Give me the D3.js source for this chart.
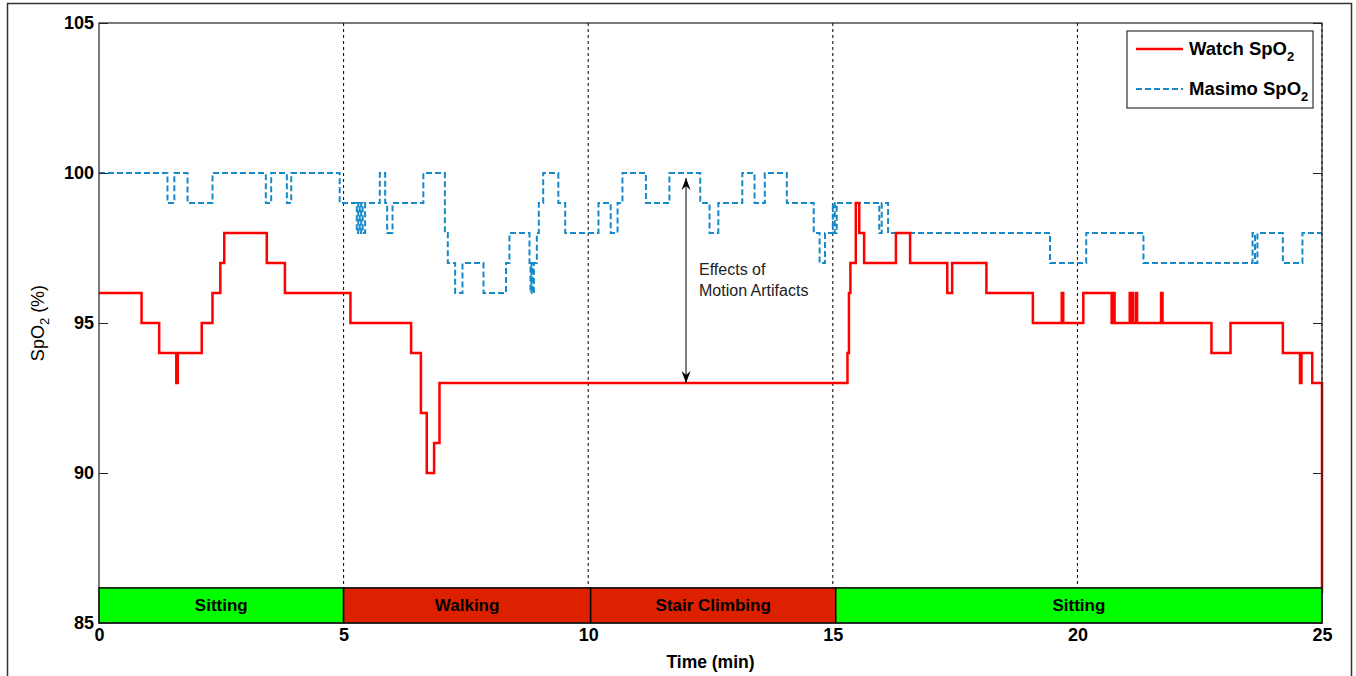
<!DOCTYPE html>
<html>
<head>
<meta charset="utf-8">
<script src="https://cdn.jsdelivr.net/npm/d3@7/dist/d3.min.js"></script>
<style>
  body { margin: 0; background: #fff; }
  svg { display: block; font-family: "Liberation Sans", Arial, sans-serif; }
</style>
</head>
<body>
<div id="chart"></div>
<script>
// step series: each value holds from its time until the next time
var watchTimes = [0, 0.87, 1.23, 1.58, 1.61, 2.10, 2.32, 2.48, 2.56, 3.43, 3.80, 5.14, 6.38, 6.58, 6.70, 6.85, 6.96,
    15.30, 15.33, 15.36, 15.47, 15.54, 15.64, 16.29, 16.58, 17.34, 17.44, 18.14, 19.09, 19.68, 19.71,
    20.12, 20.70, 20.73, 20.76, 21.07, 21.09, 21.12, 21.14, 21.20, 21.22, 21.71, 21.74, 22.74, 23.13,
    24.20, 24.55, 24.58, 24.80, 25.0];
var watchValues = [96, 95, 94, 93, 94, 95, 96, 97, 98, 97, 96, 95, 94, 92, 90, 91, 93,
    94, 96, 97, 99, 98, 97, 98, 97, 96, 97, 96, 95, 96, 95,
    96, 95, 96, 95, 96, 95, 96, 95, 96, 95, 96, 95, 94, 95,
    94, 93, 94, 93, 86];

var masimoTimes = [0, 1.40, 1.54, 1.81, 2.32, 3.41, 3.52, 3.84, 3.93, 4.92, 5.27, 5.30, 5.33, 5.36, 5.39, 5.44,
    5.74, 5.85, 5.89, 6.00, 6.63, 7.07, 7.13, 7.28, 7.43, 7.86, 8.32, 8.39, 8.80, 8.82, 8.84, 8.86, 8.89,
    8.95, 8.99, 9.08, 9.39, 9.53, 10.21, 10.46, 10.60, 10.70, 11.18, 11.66, 12.29, 12.48, 12.66, 13.15,
    13.40, 13.61, 14.06, 14.61, 14.73, 14.84, 15.00, 15.04, 15.08, 15.95, 16.00, 16.13, 19.44, 20.18,
    21.35, 23.58, 23.63, 23.68, 24.20, 24.60, 25.0];
var masimoValues = [100, 99, 100, 99, 100, 99, 100, 99, 100, 99, 98, 99, 98, 99, 98, 99,
    100, 99, 98, 99, 100, 98, 97, 96, 97, 96, 97, 98, 97, 96, 97, 96, 97,
    98, 99, 100, 99, 98, 99, 98, 99, 100, 99, 100, 99, 98, 99, 100,
    99, 100, 99, 98, 97, 98, 99, 98, 99, 98, 99, 98, 97, 98,
    97, 98, 97, 98, 97, 98, 98];

var activityNames = ["Sitting", "Walking", "Stair Climbing", "Sitting"];
var activityStarts = [0, 5, 10.05, 15.06];
var activityEnds = [5, 10.05, 15.06, 25];
var activityColors = ["#00ff00", "#dd2000", "#dd2000", "#00ff00"];

var xTicks = [0, 5, 10, 15, 20, 25];
var yTicks = [85, 90, 95, 100, 105];
var gridTimes = [5, 10, 15, 20, 25];

var barTop = 86.17;
var arrowTime = 12, arrowFrom = 99.83, arrowTo = 93.0;

var width = 1356, height = 676;
var margin = { top: 23, right: 34, bottom: 53, left: 99 };
var w = width - margin.left - margin.right,
    h = height - margin.top - margin.bottom;

var svg = d3.select("#chart").append("svg")
    .attr("width", width)
    .attr("height", height);

// figure frame
svg.append("rect")
    .attr("x", 7.5).attr("y", 3.5)
    .attr("width", 1344).attr("height", 690)
    .attr("fill", "none").attr("stroke", "#333").attr("stroke-width", 1.5);

var defs = svg.append("defs");
defs.append("marker")
    .attr("id", "head")
    .attr("viewBox", "-12 -6 14 12")
    .attr("markerWidth", 14).attr("markerHeight", 12)
    .attr("markerUnits", "userSpaceOnUse")
    .attr("refX", 0).attr("refY", 0)
    .attr("orient", "auto-start-reverse")
    .append("path")
    .attr("d", "M0,0 L-12,-4.5 L-8,0 L-12,4.5 Z")
    .attr("fill", "#000");

var g = svg.append("g")
    .attr("transform", "translate(" + margin.left + "," + margin.top + ")");

var x = d3.scaleLinear().domain([0, 25]).range([0, w]);
var y = d3.scaleLinear().domain([85, 105]).range([h, 0]);

// dotted activity boundaries
g.selectAll(".grid")
    .data(gridTimes)
    .enter().append("line")
    .attr("x1", function(d) { return x(d); })
    .attr("x2", function(d) { return x(d); })
    .attr("y1", y(105))
    .attr("y2", y(barTop))
    .attr("stroke", "#000")
    .attr("stroke-width", 1)
    .attr("stroke-dasharray", "3,3");

var line = d3.line()
    .x(function(d) { return x(d[0]); })
    .y(function(d) { return y(d[1]); })
    .curve(d3.curveStepAfter);

var masimo = d3.zip(masimoTimes, masimoValues);
var watch = d3.zip(watchTimes, watchValues);

g.append("path")
    .datum(masimo)
    .attr("d", line)
    .attr("fill", "none")
    .attr("stroke", "#1689ca")
    .attr("stroke-width", 2)
    .attr("stroke-dasharray", "6,3");

g.append("path")
    .datum(watch)
    .attr("d", line)
    .attr("fill", "none")
    .attr("stroke", "#ff0000")
    .attr("stroke-width", 2.5);

// activity bar
var bars = g.selectAll(".act")
    .data(activityNames)
    .enter().append("g");

bars.append("rect")
    .attr("x", function(d, i) { return x(activityStarts[i]); })
    .attr("y", y(barTop))
    .attr("width", function(d, i) { return x(activityEnds[i]) - x(activityStarts[i]); })
    .attr("height", y(85) - y(barTop))
    .attr("fill", function(d, i) { return activityColors[i]; })
    .attr("stroke", "#000")
    .attr("stroke-width", 1.5);

bars.append("text")
    .attr("x", function(d, i) { return x((activityStarts[i] + activityEnds[i]) / 2); })
    .attr("y", (y(barTop) + y(85)) / 2 + 6)
    .attr("text-anchor", "middle")
    .attr("font-size", 17)
    .attr("font-weight", "bold")
    .attr("fill", "#000")
    .text(function(d) { return d; });

// axes box
g.append("rect")
    .attr("x", 0).attr("y", 0)
    .attr("width", w).attr("height", h)
    .attr("fill", "none")
    .attr("stroke", "#222")
    .attr("stroke-width", 1.2);

var yAxisL = d3.axisLeft(y).tickValues(yTicks).tickSizeInner(-9).tickSizeOuter(0).tickPadding(5);
var yAxisR = d3.axisRight(y).tickValues(yTicks).tickSizeInner(-9).tickSizeOuter(0).tickFormat("");
var xAxis = d3.axisBottom(x).tickValues(xTicks).tickSizeInner(0).tickSizeOuter(0).tickPadding(5);

var gy = g.append("g").call(yAxisL);
g.append("g").attr("transform", "translate(" + w + ",0)").call(yAxisR);
var gx = g.append("g").attr("transform", "translate(0," + h + ")").call(xAxis);

g.selectAll(".domain").remove();
g.selectAll(".tick line").attr("stroke", "#222");
gy.selectAll("text").attr("font-size", 18).attr("font-weight", "bold").attr("fill", "#000")
    .attr("font-family", "Liberation Sans, Arial, sans-serif");
gx.selectAll("text").attr("font-size", 18).attr("font-weight", "bold").attr("fill", "#000")
    .attr("font-family", "Liberation Sans, Arial, sans-serif");

// axis labels
g.append("text")
    .attr("x", w / 2)
    .attr("y", h + 45)
    .attr("text-anchor", "middle")
    .attr("font-size", 17.5)
    .attr("font-weight", "bold")
    .text("Time (min)");

var yl = g.append("text")
    .attr("transform", "translate(-55," + y(95) + ") rotate(-90)")
    .attr("text-anchor", "middle")
    .attr("font-size", 18);
yl.append("tspan").text("SpO");
yl.append("tspan").attr("font-size", 13).attr("dy", 5).text("2");
yl.append("tspan").attr("dy", -5).text(" (%)");

// motion artifact annotation
g.append("line")
    .attr("x1", x(arrowTime)).attr("x2", x(arrowTime))
    .attr("y1", y(arrowFrom)).attr("y2", y(arrowTo))
    .attr("stroke", "#000")
    .attr("stroke-width", 1)
    .attr("marker-start", "url(#head)")
    .attr("marker-end", "url(#head)");

var note = g.append("text")
    .attr("x", x(arrowTime) + 13)
    .attr("y", y(96.6))
    .attr("font-size", 16)
    .attr("fill", "#222");
note.append("tspan").attr("x", x(arrowTime) + 13).text("Effects of");
note.append("tspan").attr("x", x(arrowTime) + 13).attr("dy", 21).text("Motion Artifacts");

// legend
var legend = svg.append("g").attr("transform", "translate(1127,31)");
legend.append("rect")
    .attr("width", 186).attr("height", 77)
    .attr("fill", "#fff").attr("stroke", "#333").attr("stroke-width", 1.2);

var legendItems = [
    { name: "Watch SpO", color: "#ff0000", dash: null, sw: 2.5 },
    { name: "Masimo SpO", color: "#1689ca", dash: "6,3", sw: 2 }
];
legendItems.forEach(function(d, i) {
    var ly = 18 + i * 40;
    legend.append("line")
        .attr("x1", 9).attr("x2", 56)
        .attr("y1", ly).attr("y2", ly)
        .attr("stroke", d.color).attr("stroke-width", d.sw)
        .attr("stroke-dasharray", d.dash);
    var t = legend.append("text")
        .attr("x", 62).attr("y", ly + 6)
        .attr("font-size", 18.5).attr("font-weight", "bold");
    t.append("tspan").text(d.name);
    t.append("tspan").attr("font-size", 13).attr("dy", 6).text("2");
});
</script>
</body>
</html>
